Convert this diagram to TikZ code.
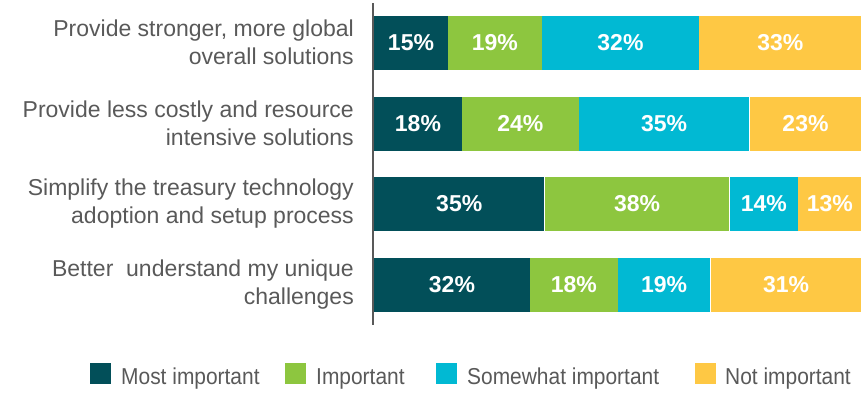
\documentclass[tikz,border=0pt]{standalone}
\usepackage{fontspec}
\setmainfont{Liberation Sans}
\newfontfamily\legendfont[FakeStretch=0.91]{Liberation Sans}
\usetikzlibrary{positioning}
\definecolor{mostimp}{HTML}{024F59}
\definecolor{impcol}{HTML}{8DC63F}
\definecolor{somecol}{HTML}{01B9D3}
\definecolor{notcol}{HTML}{FEC844}
\definecolor{labelgray}{HTML}{595959}
\tikzstyle{seg} = [rectangle, minimum height=54pt, inner sep=0pt, text=white, font=\fontsize{23}{28}\selectfont\bfseries]
\tikzstyle{mostbox} = [seg, fill=mostimp]
\tikzstyle{impbox} = [seg, fill=impcol]
\tikzstyle{somebox} = [seg, fill=somecol]
\tikzstyle{notbox} = [seg, fill=notcol]
\tikzstyle{cat} = [anchor=east, align=right, inner sep=0pt, text=labelgray, font=\fontsize{23}{28}\selectfont]
\tikzstyle{keybox} = [rectangle, minimum size=21pt, inner sep=0pt, anchor=north west]
\tikzstyle{keytext} = [anchor=base west, inner sep=0pt, text=labelgray, font=\fontsize{23}{28}\legendfont]
\tikzstyle{axis} = [draw=labelgray, line width=1.3pt]
\begin{document}
\begin{tikzpicture}[x=1pt, y=-1pt]
\useasboundingbox (0,0) rectangle (862,392);
\node (catA) [cat] at (354,42.5) {Provide stronger, more global\\overall solutions};
\node (catB) [cat] at (354,123.5) {Provide less costly and resource\\intensive solutions};
\node (catC) [cat] at (354,204) {Simplify the treasury technology\\adoption and setup process};
\node (catD) [cat] at (354,285) {Better\ \ understand my unique\\challenges};
\node (sA1) [mostbox, minimum width=73.6pt, anchor=west] at (374,42.5) {15\%};
\node (sA2) [impbox, minimum width=93.3pt, right=0pt of sA1] {19\%};
\node (sA3) [somebox, minimum width=157.1pt, right=0pt of sA2] {32\%};
\node (sA4) [notbox, minimum width=162pt, right=0pt of sA3] {33\%};
\node (sB1) [mostbox, minimum width=87.5pt, anchor=west] at (374,123.5) {18\%};
\node (sB2) [impbox, minimum width=116.6pt, right=0pt of sB1] {24\%};
\node (sB3) [somebox, minimum width=170.1pt, right=0pt of sB2] {35\%};
\node (sB4) [notbox, minimum width=111.8pt, right=0pt of sB3] {23\%};
\node (sC1) [mostbox, minimum width=170.1pt, anchor=west] at (374,204) {35\%};
\node (sC2) [impbox, minimum width=184.7pt, right=0pt of sC1] {38\%};
\node (sC3) [somebox, minimum width=68pt, right=0pt of sC2] {14\%};
\node (sC4) [notbox, minimum width=63.2pt, right=0pt of sC3] {13\%};
\node (sD1) [mostbox, minimum width=155.5pt, anchor=west] at (374,285) {32\%};
\node (sD2) [impbox, minimum width=87.5pt, right=0pt of sD1] {18\%};
\node (sD3) [somebox, minimum width=92.3pt, right=0pt of sD2] {19\%};
\node (sD4) [notbox, minimum width=150.7pt, right=0pt of sD3] {31\%};
\coordinate (axtop) at (373,3);
\coordinate (axbot) at (373,325);
\draw [axis] (axtop) -- (axbot);
\node (kMost) [keybox, fill=mostimp] at (90,363) {};
\node (tMost) [keytext] at (121,384) {Most important};
\node (kImp) [keybox, fill=impcol] at (285,363) {};
\node (tImp) [keytext] at (316,384) {Important};
\node (kSome) [keybox, fill=somecol] at (436,363) {};
\node (tSome) [keytext] at (467,384) {Somewhat important};
\node (kNot) [keybox, fill=notcol] at (695,363) {};
\node (tNot) [keytext] at (725,384) {Not important};
\end{tikzpicture}
\end{document}
